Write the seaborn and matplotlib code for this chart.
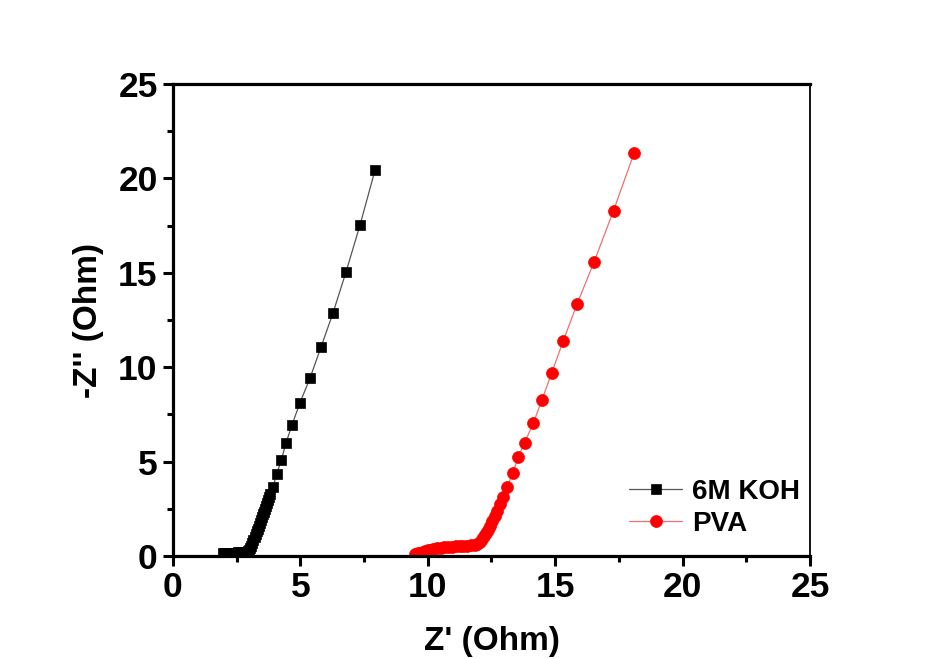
import matplotlib
matplotlib.use("Agg")
import matplotlib.pyplot as plt
import seaborn as sns
import pandas as pd
from matplotlib.ticker import MultipleLocator

# Data
koh_x = [1.95, 2.05, 2.15, 2.25, 2.35, 2.45, 2.55, 2.65, 2.75, 2.85, 2.93,
         3.0, 3.04, 3.08, 3.12, 3.16, 3.2, 3.24, 3.28, 3.32, 3.36, 3.4, 3.44,
         3.48, 3.52, 3.56, 3.6, 3.64, 3.68, 3.72, 3.76, 3.82, 3.93, 4.07,
         4.25, 4.43, 4.67, 4.98, 5.38, 5.81, 6.28, 6.79, 7.34, 7.93]
koh_y = [0.15, 0.16, 0.17, 0.17, 0.18, 0.18, 0.19, 0.19, 0.2, 0.22, 0.26,
         0.32, 0.42, 0.55, 0.7, 0.85, 1.0, 1.15, 1.3, 1.45, 1.6, 1.75, 1.9,
         2.05, 2.2, 2.35, 2.5, 2.65, 2.8, 2.95, 3.1, 3.3, 3.67, 4.34, 5.08,
         5.96, 6.94, 8.10, 9.43, 11.07, 12.87, 15.04, 17.53, 20.44]

pva_x = [9.5, 9.6, 9.7, 9.8, 9.9, 10.0, 10.1, 10.2, 10.35, 10.5, 10.65,
         10.8, 10.95, 11.1, 11.25, 11.4, 11.55, 11.7, 11.85, 11.95, 12.05,
         12.12, 12.2, 12.27, 12.35, 12.43, 12.52, 12.62, 12.72, 12.83, 12.94,
         13.12, 13.33, 13.55, 13.80, 14.14, 14.48, 14.86, 15.31, 15.86, 16.53,
         17.29, 18.10]
pva_y = [0.1, 0.14, 0.18, 0.22, 0.26, 0.3, 0.33, 0.36, 0.4, 0.43, 0.46,
         0.48, 0.5, 0.51, 0.52, 0.53, 0.54, 0.56, 0.6, 0.66, 0.75, 0.9, 1.05,
         1.2, 1.4, 1.6, 1.85, 2.1, 2.4, 2.75, 3.14, 3.67, 4.38, 5.23, 6.0,
         7.03, 8.26, 9.68, 11.37, 13.35, 15.59, 18.29, 21.36]

sns.set_style("white")
plt.rcParams['font.family'] = ['Liberation Sans', 'DejaVu Sans']
plt.rcParams['font.weight'] = 'bold'
plt.rcParams['text.color'] = 'black'
plt.rcParams['axes.labelcolor'] = 'black'
plt.rcParams['xtick.color'] = 'black'
plt.rcParams['ytick.color'] = 'black'

fig = plt.figure(figsize=(9.26, 6.59), dpi=100)
ax = fig.add_axes([0.1868, 0.1563, 0.6879, 0.7162])

koh = pd.DataFrame({"x": koh_x, "y": koh_y})
pva = pd.DataFrame({"x": pva_x, "y": pva_y})

sns.lineplot(data=koh, x="x", y="y", sort=False, estimator=None, ax=ax,
             color="#555555", linewidth=0.9, marker="s", markersize=6.5,
             markerfacecolor="black", markeredgecolor="black",
             markeredgewidth=0.5, label="6M KOH")
sns.lineplot(data=pva, x="x", y="y", sort=False, estimator=None, ax=ax,
             color="#f07070", linewidth=0.9, marker="o", markersize=8.6,
             markerfacecolor="#ff0000", markeredgecolor="#ff0000",
             markeredgewidth=0.5, label="PVA")

ax.set_xlim(0, 25)
ax.set_ylim(0, 25)
ax.xaxis.set_major_locator(MultipleLocator(5))
ax.yaxis.set_major_locator(MultipleLocator(5))
ax.xaxis.set_minor_locator(MultipleLocator(2.5))
ax.yaxis.set_minor_locator(MultipleLocator(2.5))

ax.tick_params(axis='both', which='major', direction='out', length=7, width=2.2,
               labelsize=25.5, pad=4, bottom=True, left=True, top=False, right=False,
               color='black', labelcolor='black')
ax.tick_params(axis='both', which='minor', direction='out', length=4, width=2.2,
               bottom=True, left=True, top=False, right=False, color='black')
for lbl in ax.get_xticklabels() + ax.get_yticklabels():
    lbl.set_fontweight('bold')

for s in ['left', 'bottom', 'top']:
    ax.spines[s].set_linewidth(2.3)
    ax.spines[s].set_color('black')
ax.spines['right'].set_linewidth(1.3)
ax.spines['right'].set_color('black')

ax.set_xlabel("Z' (Ohm)", fontsize=24, fontweight='bold', labelpad=16, color='black')
ax.set_ylabel("-Z'' (Ohm)", fontsize=24, fontweight='bold', labelpad=10, color='black')

leg = ax.legend(loc='lower right', bbox_to_anchor=(1.024, -0.012), frameon=False,
                prop={'size': 20, 'weight': 'bold'}, handlelength=1.9,
                handletextpad=0.36, labelspacing=0.2)

fig.savefig("out.png", dpi=100, facecolor='white')
